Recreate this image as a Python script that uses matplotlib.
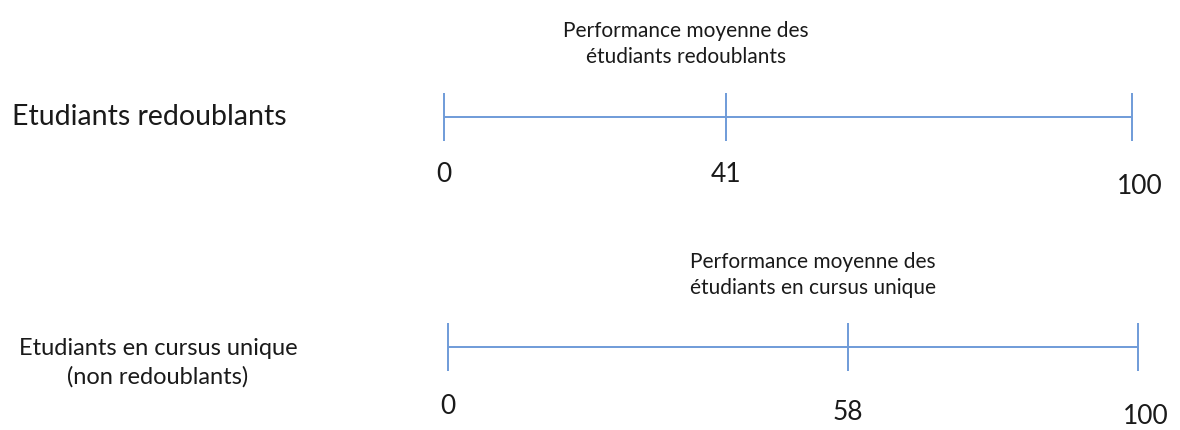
import matplotlib.pyplot as plt

# data
groups = ["Etudiants redoublants", "Etudiants en cursus unique\n(non redoublants)"]
scale_min = 0
scale_max = 100
means = [41, 58]
notes = ["Performance moyenne des\nétudiants redoublants",
         "Performance moyenne des\nétudiants en cursus unique"]

line_col = "#6f9bd8"
txt_col = "#1a1a1a"
plt.rcParams['font.family'] = ['Lato', 'DejaVu Sans']

W, H = 1180, 430
fig = plt.figure(figsize=(W / 100, H / 100), dpi=100)

# axes boxes in pixels: left, right, top, bottom (tick extent)
boxes = [(444, 1132, 93, 141), (448, 1138, 323, 371)]
# label offsets below the tick bottom (pixels) for min / mean / max
lab_off = [(34, 34, 46), (35, 41, 46)]
note_y = [44, 275]
note_x = [686, 813]
group_pos = [(12, 117, "left", 20.5), (158, 363, "center", 17)]

for i, (l, r, t, b) in enumerate(boxes):
    ax = fig.add_axes([l / W, 1 - b / H, (r - l) / W, (b - t) / H])
    ax.set_xlim(scale_min, scale_max)
    ax.set_ylim(-1, 1)
    ax.axis("off")
    ax.hlines(0, scale_min, scale_max, color=line_col, lw=1.4, clip_on=False)
    ax.vlines([scale_min, means[i], scale_max], -1, 1, color=line_col, lw=1.4, clip_on=False)
    for v, off, dx in zip([scale_min, means[i], scale_max], lab_off[i], [0, 0, 8]):
        ax.annotate(str(v), xy=(v, -1), xytext=(dx, -off), textcoords="offset pixels",
                    ha="center", va="center", fontsize=19, color=txt_col,
                    annotation_clip=False)

    fig.text(note_x[i] / W, 1 - note_y[i] / H, notes[i], ha="center", va="center",
             fontsize=15, color=txt_col, linespacing=1.35)
    gx, gy, ha, fs = group_pos[i]
    fig.text(gx / W, 1 - gy / H, groups[i], ha=ha, va="center", fontsize=fs,
             color=txt_col, multialignment="center", linespacing=1.4)

fig.savefig("out.png", dpi=100, facecolor="white")
